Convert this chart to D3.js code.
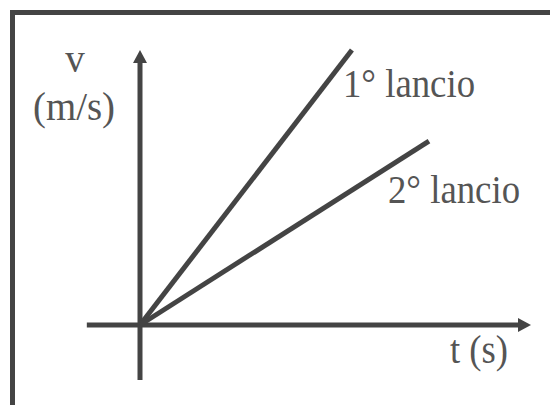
<!DOCTYPE html>
<html lang="it">
<head>
<meta charset="utf-8">
<style>
  body { margin: 0; background: #fff; }
  text { font-family: "Liberation Serif", serif; fill: #555; }
</style>
</head>
<body>
<svg id="chart" width="550" height="405"></svg>
<script src="https://d3js.org/d3.v7.min.js"></script>
<script>
// data (arbitrary units)
const lineNames = ["1° lancio", "2° lancio"];
const endT = [5.42, 7.39];
const endV = [10, 6.69];
const axisT = [-1.36, 10];
const axisV = [-2, 10];
const axisLabelT = "t (s)";
const axisLabelV = ["v", "(m/s)"];

const col = "#444";
const svg = d3.select("#chart");

// frame, runs off the right and bottom edges
svg.append("rect")
  .attr("x", 12.5).attr("y", 12.5)
  .attr("width", 560).attr("height", 420)
  .attr("fill", "none")
  .attr("stroke", col)
  .attr("stroke-width", 5);

const x = d3.scaleLinear().domain([0, 10]).range([140, 531]);
const y = d3.scaleLinear().domain([0, 10]).range([325, 50]);

// axes
svg.append("line")
  .attr("x1", x(axisT[0])).attr("y1", y(0))
  .attr("x2", x(axisT[1]) - 6).attr("y2", y(0))
  .attr("stroke", col).attr("stroke-width", 5);
svg.append("path")
  .attr("d", `M${x(axisT[1]) - 13},${y(0) - 7} L${x(axisT[1])},${y(0)} L${x(axisT[1]) - 13},${y(0) + 7} Z`)
  .attr("fill", col);

svg.append("line")
  .attr("x1", x(0)).attr("y1", y(axisV[0]))
  .attr("x2", x(0)).attr("y2", y(axisV[1]) + 6)
  .attr("stroke", col).attr("stroke-width", 5);
svg.append("path")
  .attr("d", `M${x(0) - 7},${y(axisV[1]) + 13} L${x(0)},${y(axisV[1])} L${x(0) + 7},${y(axisV[1]) + 13} Z`)
  .attr("fill", col);

// the two launches
const lines = lineNames.map((n, i) => ({ name: n, t: endT[i], v: endV[i] }));
svg.selectAll("line.launch").data(lines)
  .join("line")
  .attr("class", "launch")
  .attr("x1", x(0)).attr("y1", y(0))
  .attr("x2", d => x(d.t)).attr("y2", d => y(d.v))
  .attr("stroke", col)
  .attr("stroke-width", 5);

// labels
const labelPos = [[343, 97], [388, 203]];
svg.selectAll("text.lbl").data(lines)
  .join("text")
  .attr("class", "lbl")
  .attr("x", (d, i) => labelPos[i][0])
  .attr("y", (d, i) => labelPos[i][1])
  .attr("font-size", 39)
  .attr("textLength", 132)
  .attr("lengthAdjust", "spacingAndGlyphs")
  .text(d => d.name);

svg.append("text")
  .attr("x", 450).attr("y", 363)
  .attr("font-size", 39)
  .attr("textLength", 58)
  .attr("lengthAdjust", "spacingAndGlyphs")
  .text(axisLabelT);

svg.append("text")
  .attr("x", 75).attr("y", 72)
  .attr("text-anchor", "middle")
  .attr("font-size", 39)
  .text(axisLabelV[0]);
svg.append("text")
  .attr("x", 33).attr("y", 120)
  .attr("font-size", 39)
  .attr("textLength", 82)
  .attr("lengthAdjust", "spacingAndGlyphs")
  .text(axisLabelV[1]);
</script>
</body>
</html>
